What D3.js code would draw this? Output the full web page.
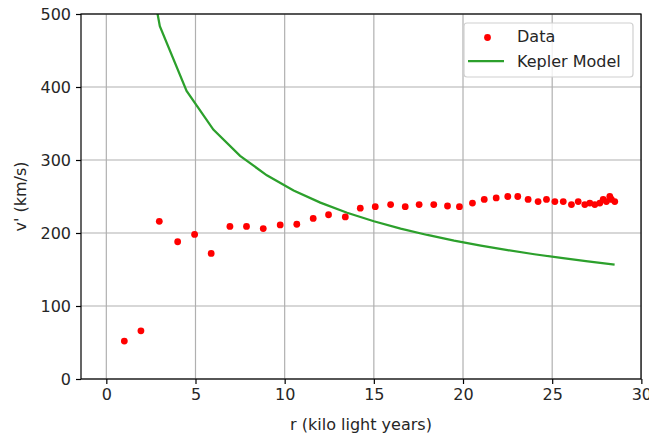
<!DOCTYPE html>
<html>
<head>
<meta charset="utf-8">
<script src="https://cdn.jsdelivr.net/npm/d3@7"></script>
<style>
  body { margin: 0; background: #fff; }
  text { font-family: "DejaVu Sans", sans-serif; fill: #262626; }
</style>
</head>
<body>
<div id="chart"></div>
<script>
// data
const dataR = [1.01, 1.94, 2.97, 4.0, 4.95, 5.88, 6.93, 7.86, 8.80, 9.75, 10.68, 11.60, 12.46, 13.40,
  14.24, 15.08, 15.94, 16.76, 17.54, 18.36, 19.13, 19.80, 20.53, 21.19, 21.86, 22.51, 23.07, 23.65,
  24.21, 24.68, 25.15, 25.62, 26.08, 26.46, 26.83, 27.11, 27.39, 27.67, 27.86, 28.04, 28.23, 28.32, 28.51];
const dataV = [52, 66, 216, 188, 198, 172, 209, 209, 206, 211, 212, 220, 225, 222,
  234, 236, 239, 236, 239, 239, 237, 236, 241, 246, 248, 250, 250, 246,
  243, 246, 243, 243, 239, 243, 239, 241, 239, 241, 246, 243, 250, 246, 243];

const keplerR = [1.5, 3, 4.5, 6, 7.5, 9, 10.5, 12, 13.5, 15, 16.5, 18, 19.5, 21, 22.5, 24, 25.5, 27, 28.5];
const keplerV = [683.4, 483.2, 394.6, 341.7, 305.6, 279.0, 258.3, 241.6, 227.8, 216.1, 206.1, 197.3,
  189.5, 182.6, 176.5, 170.9, 165.8, 161.1, 156.8];

const xTicks = [0, 5, 10, 15, 20, 25, 30];
const yTicks = [0, 100, 200, 300, 400, 500];

const W = 649, H = 434;
const margin = { top: 14, right: 8, bottom: 55, left: 81 };
const fs = 16;

const svg = d3.select("#chart").append("svg")
  .attr("width", W).attr("height", H);

const x = d3.scaleLinear().domain([-1.42, 29.98]).range([margin.left, W - margin.right]);
const y = d3.scaleLinear().domain([0, 500]).range([H - margin.bottom, margin.top]);

svg.append("clipPath").attr("id", "clip")
  .append("rect")
  .attr("x", margin.left).attr("y", margin.top)
  .attr("width", W - margin.left - margin.right)
  .attr("height", H - margin.top - margin.bottom);

// GRID
svg.append("g").selectAll("line").data(xTicks).join("line")
  .attr("x1", d => x(d)).attr("x2", d => x(d))
  .attr("y1", margin.top).attr("y2", H - margin.bottom)
  .attr("stroke", "#b0b0b0").attr("stroke-width", 1.2);
svg.append("g").selectAll("line").data(yTicks).join("line")
  .attr("y1", d => y(d)).attr("y2", d => y(d))
  .attr("x1", margin.left).attr("x2", W - margin.right)
  .attr("stroke", "#b0b0b0").attr("stroke-width", 1.2);

// KEPLER LINE
const line = d3.line().x((d, i) => x(keplerR[i])).y(d => y(d));
svg.append("path").datum(keplerV)
  .attr("clip-path", "url(#clip)")
  .attr("d", line)
  .attr("fill", "none").attr("stroke", "#2ca02c").attr("stroke-width", 2.25);

// DATA POINTS
svg.append("g").attr("clip-path", "url(#clip)")
  .selectAll("circle").data(dataV).join("circle")
  .attr("cx", (d, i) => x(dataR[i])).attr("cy", d => y(d))
  .attr("r", 3.4).attr("fill", "#ff0000");

// AXES
const xAxis = svg.append("g")
  .attr("transform", `translate(0,${H - margin.bottom})`)
  .call(d3.axisBottom(x).tickValues(xTicks).tickSize(5).tickPadding(5));
const yAxis = svg.append("g")
  .attr("transform", `translate(${margin.left},0)`)
  .call(d3.axisLeft(y).tickValues(yTicks).tickSize(5).tickPadding(5));
[xAxis, yAxis].forEach(a => {
  a.select(".domain").remove();
  a.selectAll(".tick line").attr("stroke", "#000").attr("stroke-width", 1.2);
  a.selectAll(".tick text").attr("font-size", fs).attr("font-family", "DejaVu Sans").attr("fill", "#262626");
});

// SPINES
svg.append("rect")
  .attr("x", margin.left).attr("y", margin.top)
  .attr("width", W - margin.left - margin.right)
  .attr("height", H - margin.top - margin.bottom)
  .attr("fill", "none").attr("stroke", "#000").attr("stroke-width", 1.2);

// LABELS
svg.append("text")
  .attr("x", (margin.left + W - margin.right) / 2).attr("y", 430)
  .attr("text-anchor", "middle").attr("font-size", fs)
  .text("r (kilo light years)");
svg.append("text")
  .attr("transform", `translate(26,${(margin.top + H - margin.bottom) / 2}) rotate(-90)`)
  .attr("text-anchor", "middle").attr("font-size", fs)
  .text("v' (km/s)");

// LEGEND
const lg = svg.append("g");
lg.append("rect")
  .attr("x", 464).attr("y", 23).attr("width", 169).attr("height", 54)
  .attr("rx", 3).attr("fill", "#fff").attr("fill-opacity", 0.8)
  .attr("stroke", "#d0d0d0").attr("stroke-width", 1.2);
lg.append("circle").attr("cx", 487.5).attr("cy", 37.5).attr("r", 3.4).attr("fill", "#ff0000");
lg.append("line").attr("x1", 468).attr("x2", 504).attr("y1", 61).attr("y2", 61)
  .attr("stroke", "#2ca02c").attr("stroke-width", 2.25);
lg.append("text").attr("x", 517).attr("y", 42).attr("font-size", fs).text("Data");
lg.append("text").attr("x", 517).attr("y", 66.5).attr("font-size", fs).text("Kepler Model");
</script>
</body>
</html>
